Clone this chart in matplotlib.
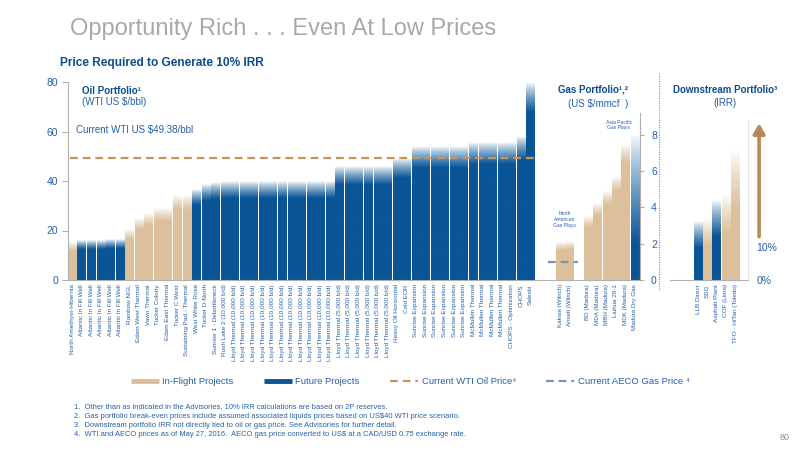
import numpy as np
import matplotlib
matplotlib.use("Agg")
import matplotlib.pyplot as plt
from matplotlib.colors import to_rgb
from matplotlib.lines import Line2D

plt.rcParams['font.family'] = ['Liberation Sans', 'DejaVu Sans']

# ---- data ----
oil_labels = [
    "North Amethyst-Hibernia",
    "Atlantic In Fill Well", "Atlantic In Fill Well", "Atlantic In Fill Well",
    "Atlantic In Fill Well", "Atlantic In Fill Well",
    "Rainbow NGL", "Edam West Thermal", "Vawn Thermal", "Tucker Colony",
    "Edam East Thermal", "Tucker C West", "Sustaining Pad - Thermal",
    "West White Rose", "Tucker D-North", "Sunrise 1 - Debottleneck",
    "Rush Lake 2 (10,000 b/d)",
] + ["Lloyd Thermal (10,000 b/d)"] * 11 + ["Lloyd Thermal (5,000 b/d)"] * 6 + [
    "Heavy Oil Horizontal", "Cold EOR",
] + ["Sunrise Expansion"] * 6 + ["McMullen Thermal"] * 4 + [
    "CHOPS - Optimization", "CHOPS", "Saleski",
]
oil_values = [
    15, 16, 16, 16, 16.5, 16.5,
    20.5, 25, 27, 29, 29, 34, 34,
    36.5, 38.5, 39.5, 40,
    40, 40, 40, 40, 40, 40, 40, 40, 40, 40, 40,
    46, 46, 46, 46, 46, 46,
    49, 49,
    54, 54, 54, 54, 54, 54,
    55.5, 55.5, 55.5, 55.5,
    55.5, 58, 80,
]
oil_inflight = [1, 0, 0, 0, 0, 0, 1, 1, 1, 1, 1, 1, 1] + [0] * 36

gas_labels = ["Kakwa (Wilrich)", "Ansell (Wilrich)", "BD (Madura)", "MDA (Madura)",
              "MBH (Madura)", "Liuhua 29-1", "MDK (Madura)", "Madura Dry Gas"]
gas_values = [2.05, 2.1, 3.5, 4.2, 4.9, 5.7, 7.5, 8.0]
gas_inflight = [1, 1, 1, 1, 1, 1, 1, 0]
gas_pos = [0, 1, 3, 4, 5, 6, 7, 8]

down_labels = ["LLB Direct", "SSG", "Asphalt Plant", "COF (Lima)", "TFO - HiTan (Toledo)"]
down_values = [17.5, 18.5, 24, 25.5, 39]
down_inflight = [0, 1, 0, 1, 1]

wti_price = 49.38
aeco_price = 1.0

footnotes = [
    "1.  Other than as indicated in the Advisories, 10% IRR calculations are based on 2P reserves.",
    "2.  Gas portfolio break-even prices include assumed associated liquids prices based on US$40 WTI price scenario.",
    "3.  Downstream portfolio IRR not directly tied to oil or gas price. See Advisories for further detail.",
    "4.  WTI and AECO prices as of May 27, 2016.  AECO gas price converted to US$ at a CAD/USD 0.75 exchange rate.",
]

BLUE = "#0a5596"
TAN = "#dcc09b"
TXT = "#2560a8"
DARK = "#0d4d8f"
ORANGE = "#c8945c"
GASDASH = "#7b92b8"
GRID = "#b0b0b0"


def fx(px):
    return px / 800


def fy(py):
    return 1 - py / 450


def ax_at(l, r, t, b):
    return fig.add_axes([fx(l), fy(b), fx(r) - fx(l), fy(t) - fy(b)])


def grad_bar(ax, x, h, w, color, fade):
    n = 200
    yy = np.linspace(0, h, n)
    alpha = np.clip((h - yy) / fade, 0, 1) ** 0.8
    rgba = np.zeros((n, 1, 4))
    rgba[..., :3] = to_rgb(color)
    rgba[..., 3] = alpha[:, None]
    ax.imshow(rgba, extent=(x - w / 2, x + w / 2, 0, h), origin='lower',
              aspect='auto', interpolation='bilinear', zorder=2)


def style(ax):
    for s in ax.spines.values():
        s.set_visible(False)
    ax.spines['bottom'].set_visible(True)
    ax.spines['bottom'].set_color(GRID)
    ax.spines['bottom'].set_linewidth(0.8)
    ax.set_facecolor('none')


fig = plt.figure(figsize=(8, 4.5), dpi=100)

# ---- oil ----
ax = ax_at(68, 540, 82, 280)
style(ax)
ax.spines['left'].set_visible(True)
ax.spines['left'].set_color(GRID)
for i, v in enumerate(oil_values):
    fade = 1.5 + 0.13 * v
    grad_bar(ax, i, v, 0.86, TAN if oil_inflight[i] else BLUE, fade)
ax.set_xlim(-0.42, 49.0)
ax.set_ylim(0, 80)
ax.set_yticks([0, 20, 40, 60, 80])
ax.tick_params(axis='y', colors=GRID, labelcolor=TXT, labelsize=7.5, length=4, pad=3)
ax.set_xticks(range(len(oil_labels)))
ax.set_xticklabels(oil_labels, rotation=90, fontsize=4.6, color=TXT, va='top')
ax.tick_params(axis='x', length=0, pad=3)
ax.axhline(wti_price, xmin=0.005, xmax=0.99, color=ORANGE, lw=1.6, ls=(0, (3.5, 2.2)), zorder=3)
ax.text(0.4, 60.5, "Current WTI US $49.38/bbl", fontsize=7, color=TXT, ha='left', va='center')
ax.text(1.0, 76.5, "Oil Portfolio¹", fontsize=7, color=DARK, fontweight='bold', va='center')
ax.text(1.0, 71.8, "(WTI US $/bbl)", fontsize=7, color=TXT, va='center')

# ---- gas ----
gx = ax_at(540, 640, 113, 280)
style(gx)
gx.spines['right'].set_visible(True)
gx.spines['right'].set_color(GRID)
for p, v, f in zip(gas_pos, gas_values, gas_inflight):
    if f:
        grad_bar(gx, p, v, 0.86, TAN, 0.25 + 0.1 * v)
    else:
        grad_bar(gx, p, v, 0.86, BLUE, 0.75 * v)
gx.set_xlim(-2.15, 8.59)
gx.set_ylim(0, 9.21)
gx.yaxis.tick_right()
gx.set_yticks([0, 2, 4, 6, 8])
gx.tick_params(axis='y', colors=GRID, labelcolor=TXT, labelsize=7.5, length=3, pad=5)
gx.set_xticks(gas_pos)
gx.set_xticklabels(gas_labels, rotation=90, fontsize=4.5, color=TXT, va='top')
gx.tick_params(axis='x', length=0, pad=3)
gx.plot([-1.25, 1.95], [aeco_price, aeco_price], color=GASDASH, lw=1.6,
        ls=(0, (3.5, 2.2)), zorder=3)
gx.text(0.5, 3.35, "North\nAmerican\nGas Plays", fontsize=3.6, color=TXT,
        ha='center', va='center', linespacing=1.2)
gx.text(6.3, 8.55, "Asia Pacific\nGas Plays", fontsize=3.6, color=TXT,
        ha='center', va='center', linespacing=1.2)
fig.text(fx(628), fy(90), "Gas Portfolio¹,²", fontsize=7, color=DARK, fontweight='bold',
         ha='right', va='center')
fig.text(fx(628), fy(104), "(US $/mmcf  )", fontsize=7, color=TXT, ha='right', va='center')

# separator
fig.add_artist(Line2D([fx(659), fx(659)], [fy(73), fy(290)], color="#8a8a8a",
                      lw=0.8, ls=(0, (1, 1.2))))

# ---- downstream ----
dx = ax_at(670, 748, 120, 280)
style(dx)
dx.spines['right'].set_visible(True)
dx.spines['right'].set_color("#e4e4e4")
for i, (v, f) in enumerate(zip(down_values, down_inflight)):
    grad_bar(dx, i, v, 0.88, TAN if f else BLUE, 0.45 * v)
dx.set_xlim(-3.03, 5.4)
dx.set_ylim(0, 48)
dx.yaxis.tick_right()
dx.set_yticks([0, 10])
dx.set_yticklabels(["0%", "10%"])
dx.tick_params(axis='y', length=0, labelcolor=TXT, labelsize=7.5, pad=6)
dx.set_xticks(range(len(down_labels)))
dx.set_xticklabels(down_labels, rotation=90, fontsize=4.6, color=TXT, va='top')
dx.tick_params(axis='x', length=0, pad=3)
dx.annotate("", xy=(6.6, 47), xytext=(6.6, 13), annotation_clip=False,
            arrowprops=dict(arrowstyle='-|>,head_width=0.35,head_length=0.6',
                            color="#b98857", lw=2.6, shrinkA=0, shrinkB=0))
fig.text(fx(725), fy(90), "Downstream Portfolio³", fontsize=7, color=DARK,
         fontweight='bold', ha='center', va='center')
fig.text(fx(725), fy(103), "(IRR)", fontsize=7, color=TXT, ha='center', va='center')

# ---- titles ----
fig.text(fx(70), fy(29), "Opportunity Rich . . . Even At Low Prices", fontsize=17,
         color="#a8a8a8", ha='left', va='center')
fig.text(fx(60), fy(63), "Price Required to Generate 10% IRR", fontsize=8.6,
         color=DARK, fontweight='bold', ha='left', va='center')

# ---- legend ----
handles = [
    Line2D([], [], color=TAN, lw=3.5, solid_capstyle='butt'),
    Line2D([], [], color=BLUE, lw=3.5, solid_capstyle='butt'),
    Line2D([], [], color=ORANGE, lw=1.6, ls=(0, (3.5, 2.2))),
    Line2D([], [], color=GASDASH, lw=1.6, ls=(0, (3.5, 2.2))),
]
labels = ["In-Flight Projects", "Future Projects", "Current WTI Oil Price⁴",
          "Current AECO Gas Price ⁴"]
leg = fig.legend(handles, labels, loc='center', bbox_to_anchor=(fx(410), fy(382)),
                 ncol=4, frameon=False, fontsize=6.8, handlelength=3.0,
                 handletextpad=0.35, columnspacing=3.2)
for t in leg.get_texts():
    t.set_color(TXT)

for k, line in enumerate(footnotes):
    fig.text(fx(74), fy(407 + 9.3 * k), line, fontsize=5.4, color=TXT,
             ha='left', va='center')
fig.text(fx(790), fy(437), "80", fontsize=6.5, color="#909090", ha='right', va='center')

fig.savefig("out.png", dpi=100)
